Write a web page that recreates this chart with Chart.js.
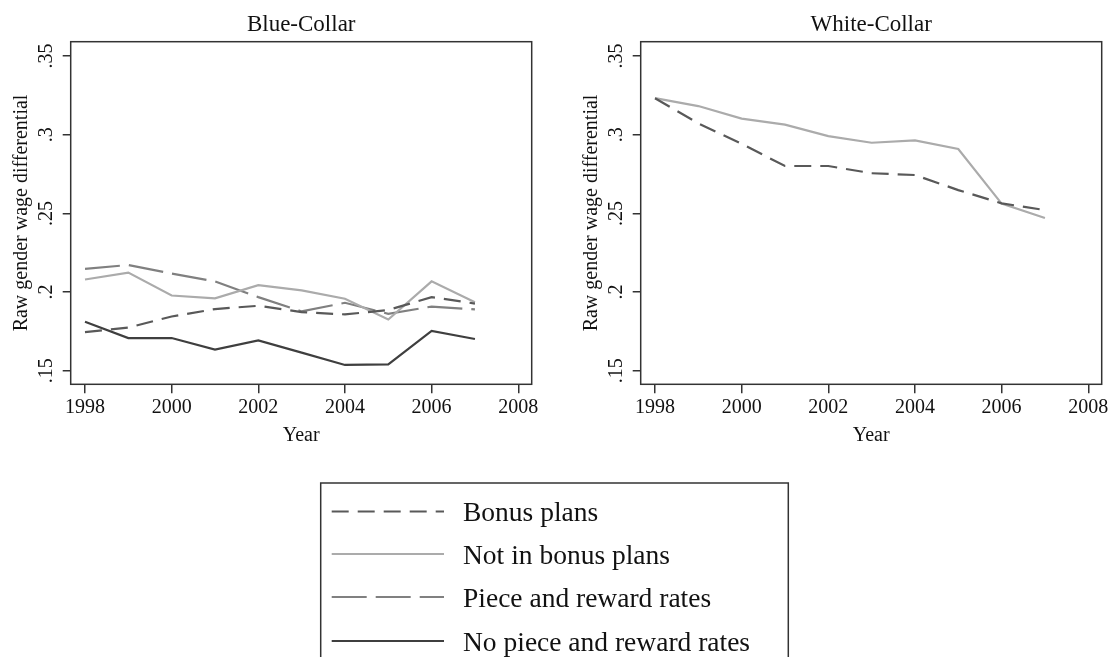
<!DOCTYPE html>
<html>
<head>
<meta charset="utf-8">
<script src="https://cdn.jsdelivr.net/npm/chart.js@4.4.1/dist/chart.umd.min.js"></script>
<style>
  html, body { margin: 0; padding: 0; background: #fff; width: 1110px; height: 657px; overflow: hidden; }
  .panel { position: absolute; top: 0; width: 555px; height: 460px; }
  #legend { position: absolute; left: 0; top: 0; }
</style>
</head>
<body>
<div class="panel" style="left:0"><canvas id="blue" width="555" height="460"></canvas></div>
<div class="panel" style="left:570px"><canvas id="white" width="555" height="460"></canvas></div>
<svg id="legend" width="1110" height="657"></svg>
<script>
// years on the x axis
const years = [1998, 1999, 2000, 2001, 2002, 2003, 2004, 2005, 2006, 2007];

// Blue-Collar panel
const bonusBlue   = [0.1746, 0.1774, 0.1845, 0.1892, 0.1913, 0.1873, 0.1858, 0.1886, 0.1968, 0.1927];
const notInBlue   = [0.2080, 0.2124, 0.1978, 0.1960, 0.2044, 0.2011, 0.1958, 0.1826, 0.2068, 0.1935];
const pieceBlue   = [0.2148, 0.2172, 0.2118, 0.2068, 0.1968, 0.1877, 0.1932, 0.1862, 0.1908, 0.1890];
const noPieceBlue = [0.1812, 0.1708, 0.1708, 0.1634, 0.1693, 0.1615, 0.1537, 0.1541, 0.1753, 0.1702];

// White-Collar panel
const bonusWhite = [0.3232, 0.3072, 0.2942, 0.2801, 0.2801, 0.2755, 0.2744, 0.2648, 0.2564, 0.2521];
const notInWhite = [0.3232, 0.3182, 0.3102, 0.3064, 0.2991, 0.2949, 0.2964, 0.2909, 0.2562, 0.2471];

const seriesNames = ['Bonus plans', 'Not in bonus plans', 'Piece and reward rates', 'No piece and reward rates'];

const xTicks = [1998, 2000, 2002, 2004, 2006, 2008];
const xTickLabels = ['1998', '2000', '2002', '2004', '2006', '2008'];
const yTicks = [0.15, 0.2, 0.25, 0.3, 0.35];
const yTickLabels = ['.15', '.2', '.25', '.3', '.35'];

const serif = "'Liberation Serif', 'Times New Roman', serif";
const ink = '#111';
const axisColor = '#333';
const styles = [
  { color: '#595959', dash: [17, 9] },
  { color: '#ababab', dash: [] },
  { color: '#808080', dash: [35, 9] },
  { color: '#3f3f3f', dash: [] }
];

const pts = vals => vals.map((v, i) => ({ x: years[i], y: v }));

function ds(idx, vals) {
  return {
    label: seriesNames[idx],
    data: pts(vals),
    borderColor: styles[idx].color,
    borderDash: styles[idx].dash,
    borderWidth: 2.2,
    pointRadius: 0,
    tension: 0,
    fill: false
  };
}

// box round the plot area
const frame = {
  id: 'frame',
  afterDraw(chart) {
    const { ctx, chartArea: a } = chart;
    ctx.save();
    ctx.strokeStyle = axisColor;
    ctx.lineWidth = 1.5;
    ctx.strokeRect(a.left, a.top, a.right - a.left, a.bottom - a.top);
    ctx.restore();
  }
};

function makeOptions(title) {
  return {
    responsive: false,
    animation: false,
    layout: { padding: { left: 0, right: 23.3, top: 0, bottom: 0 } },
    plugins: {
      legend: { display: false },
      tooltip: { enabled: false },
      title: {
        display: true, text: title, color: ink, fullSize: false,
        font: { family: serif, size: 23, weight: 'normal' },
        padding: { top: 11.2, bottom: 2.9 }
      }
    },
    scales: {
      x: {
        type: 'linear', min: 1997.67, max: 2008.31,
        afterBuildTicks: s => { s.ticks = xTicks.map(v => ({ value: v })); },
        afterFit: s => { s.height = 75.7; },
        grid: { drawOnChartArea: false, drawTicks: true, tickLength: 9, color: axisColor, lineWidth: 1.5 },
        border: { display: false },
        ticks: {
          color: ink, padding: 2, maxRotation: 0, autoSkip: false,
          font: { family: serif, size: 20 },
          callback: (v, i) => xTickLabels[i]
        },
        title: {
          display: true, text: 'Year', color: ink,
          font: { family: serif, size: 20 },
          padding: { top: 0, bottom: 12 }
        }
      },
      y: {
        type: 'linear', min: 0.1414, max: 0.3591,
        afterBuildTicks: s => { s.ticks = yTicks.map(v => ({ value: v })); },
        afterFit: s => { s.width = 70.7; },
        grid: { drawOnChartArea: false, drawTicks: true, tickLength: 8, color: axisColor, lineWidth: 1.5 },
        border: { display: false },
        ticks: {
          color: ink, padding: 3.7, minRotation: 90, maxRotation: 90, crossAlign: 'center',
          font: { family: serif, size: 20 },
          callback: (v, i) => yTickLabels[i]
        },
        title: {
          display: true, text: 'Raw gender wage differential', color: ink,
          font: { family: serif, size: 20 },
          padding: { top: 10, bottom: 0 }
        }
      }
    }
  };
}

new Chart(document.getElementById('blue'), {
  type: 'line',
  data: { datasets: [ds(0, bonusBlue), ds(1, notInBlue), ds(2, pieceBlue), ds(3, noPieceBlue)] },
  options: makeOptions('Blue-Collar'),
  plugins: [frame]
});

new Chart(document.getElementById('white'), {
  type: 'line',
  data: { datasets: [ds(0, bonusWhite), ds(1, notInWhite)] },
  options: makeOptions('White-Collar'),
  plugins: [frame]
});

// shared legend below the panels
const svgNS = 'http://www.w3.org/2000/svg';
const svg = document.getElementById('legend');
const box = document.createElementNS(svgNS, 'rect');
box.setAttribute('x', 320.7); box.setAttribute('y', 483);
box.setAttribute('width', 467.6); box.setAttribute('height', 220);
box.setAttribute('fill', 'none'); box.setAttribute('stroke', axisColor); box.setAttribute('stroke-width', 1.5);
svg.appendChild(box);
const rowY = [511.5, 554, 597, 641];
seriesNames.forEach((name, i) => {
  const ln = document.createElementNS(svgNS, 'line');
  ln.setAttribute('x1', 331.7); ln.setAttribute('x2', 444);
  ln.setAttribute('y1', rowY[i]); ln.setAttribute('y2', rowY[i]);
  ln.setAttribute('stroke', styles[i].color); ln.setAttribute('stroke-width', 2.2);
  if (styles[i].dash.length) ln.setAttribute('stroke-dasharray', styles[i].dash.join(' '));
  svg.appendChild(ln);
  const tx = document.createElementNS(svgNS, 'text');
  tx.setAttribute('x', 463); tx.setAttribute('y', rowY[i] + 9.8);
  tx.setAttribute('fill', ink);
  tx.setAttribute('font-family', serif); tx.setAttribute('font-size', 27.5);
  tx.textContent = name;
  svg.appendChild(tx);
});
</script>
</body>
</html>
